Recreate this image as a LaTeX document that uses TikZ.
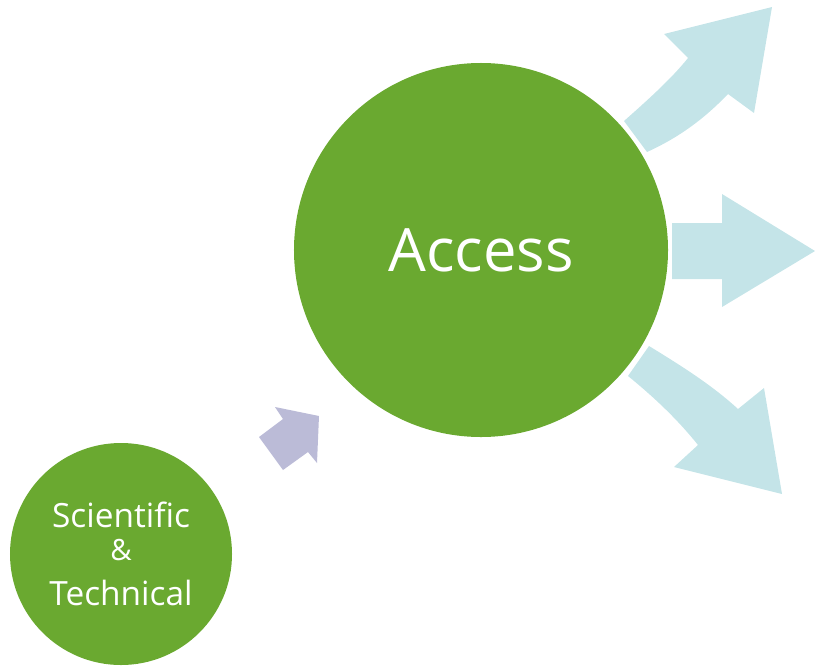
\documentclass[tikz,border=0pt]{standalone}
\usepackage{fontspec}
\setmainfont{Open Sans}
\usetikzlibrary{positioning}
\definecolor{leafgreen}{RGB}{106,169,48}
\definecolor{paleblue}{RGB}{196,228,232}
\definecolor{lavender}{RGB}{187,187,215}
\tikzset{
  bubble/.style={circle,fill=leafgreen,text=white,inner sep=0pt,align=center},
  flow/.style={fill=paleblue},
}
\begin{document}
\begin{tikzpicture}[x=0.03cm,y=-0.03cm]
\useasboundingbox (0,0) rectangle (815,668);

\node[bubble,minimum size=11.22cm,font=\fontsize{51}{60}\selectfont] (access) at (481,250) {Access};
\node[bubble,minimum size=6.66cm,font=\fontsize{28.5}{28.5}\selectfont] (scitech) at (121,554)
  {Scientific\\[-1pt]{\fontsize{25}{25}\selectfont\&}\\[10pt]Technical};

% small arrow into Access
\fill[lavender] (319,416) -- (275,407) -- (283,419) -- (259,437) -- (283,470) -- (308,452) -- (317,463) -- cycle;

% arrows out of Access
\fill[flow] (624,121) .. controls (650,98) and (672,78) .. (688,58) -- (664,34) -- (772,7) -- (754,113) -- (728,94)
  .. controls (705,118) and (680,137) .. (647,152) -- cycle;
\fill[flow] (672,223) -- (722,223) -- (722,194) -- (815,251) -- (722,307) -- (722,279) -- (672,279) -- cycle;
\fill[flow] (649,346) .. controls (680,365) and (712,385) .. (738,409) -- (764,388) -- (782,494) -- (674,467) -- (698,445)
  .. controls (678,420) and (655,398) .. (628,376) -- cycle;
\end{tikzpicture}
\end{document}
